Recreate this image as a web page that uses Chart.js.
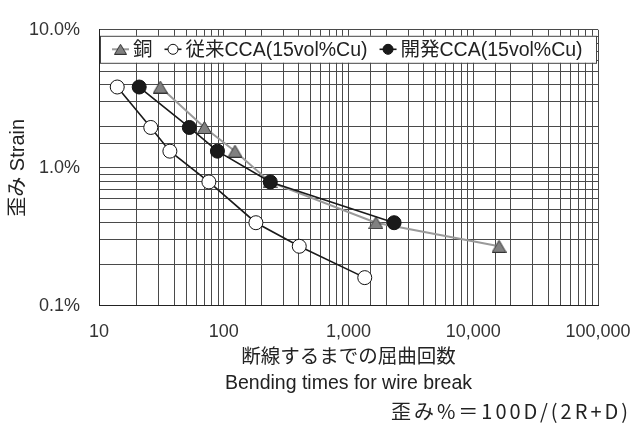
<!DOCTYPE html>
<html>
<head>
<meta charset="utf-8">
<script src="https://cdn.jsdelivr.net/npm/chart.js"></script>
<style>
html, body { margin: 0; padding: 0; background: #fff; }
#wrap { width: 632px; height: 426px; }
</style>
</head>
<body>
<div id="wrap"><canvas id="chart"></canvas></div>
<script>
const seriesNames = ['銅', '従来CCA(15vol%Cu)', '開発CCA(15vol%Cu)'];
const copperTimes = [31, 70, 123, 235, 1660, 16100];
const copperStrain = [3.85, 1.96, 1.32, 0.79, 0.40, 0.27];
const oldCcaTimes = [14, 26, 37, 76, 181, 403, 1350];
const oldCcaStrain = [3.85, 1.96, 1.32, 0.79, 0.40, 0.27, 0.16];
const newCcaTimes = [21, 53, 89, 236, 2320];
const newCcaStrain = [3.85, 1.96, 1.32, 0.79, 0.40];

const xTitle = ['断線するまでの屈曲回数', 'Bending times for wire break'];
const yTitle = '歪み Strain';
const formula = '歪み%＝100D/(2R+D)';

const FONT = "'Liberation Sans', 'Noto Sans CJK JP', sans-serif";

function toPoints(xs, ys) {
    return xs.map((x, i) => ({x: x, y: ys[i]}));
}

function isDecade(v) {
    const l = Math.log10(v);
    return Math.abs(l - Math.round(l)) < 1e-9;
}

// excel style triangle, centred on its bounding box
function triangleImg(w, h) {
    const c = document.createElement('canvas');
    c.width = w;
    c.height = h;
    const g = c.getContext('2d');
    g.beginPath();
    g.moveTo(w / 2, 0.5);
    g.lineTo(w - 0.5, h - 0.5);
    g.lineTo(0.5, h - 0.5);
    g.closePath();
    g.fillStyle = '#808080';
    g.fill();
    g.strokeStyle = '#333';
    g.lineWidth = 1;
    g.stroke();
    return c;
}

const tri = triangleImg(15, 13);
const triSmall = triangleImg(13, 11);

const legendBox = {
    id: 'legendBox',
    afterDraw(chart) {
        const ctx = chart.ctx;
        const area = chart.chartArea;
        const left = area.left + 1, right = area.right - 2;
        const top = area.top + 6, h = 27;
        const cy = top + h / 2;
        ctx.save();
        ctx.fillStyle = '#fff';
        ctx.fillRect(left, top, right - left, h);
        ctx.strokeStyle = '#444';
        ctx.lineWidth = 1;
        ctx.strokeRect(left + 0.5, top + 0.5, right - left, h);

        ctx.font = '19.5px ' + FONT;
        ctx.textBaseline = 'middle';
        let x = left + 12;
        seriesNames.forEach((name, i) => {
            const ds = chart.data.datasets.find(d => d.label === name);
            ctx.strokeStyle = ds.borderColor;
            ctx.lineWidth = ds.borderWidth;
            ctx.beginPath();
            ctx.moveTo(x, cy);
            ctx.lineTo(x + 17, cy);
            ctx.stroke();
            if (i === 0) {
                ctx.drawImage(triSmall, x + 8.5 - triSmall.width / 2, cy - triSmall.height / 2);
            } else {
                ctx.beginPath();
                ctx.arc(x + 8.5, cy, 5, 0, Math.PI * 2);
                ctx.fillStyle = ds.pointBackgroundColor;
                ctx.fill();
                ctx.strokeStyle = '#111';
                ctx.lineWidth = 1;
                ctx.stroke();
            }
            ctx.fillStyle = '#222';
            ctx.fillText(name, x + 21, cy + 1);
            x += 21 + ctx.measureText(name).width + 12;
        });
        ctx.restore();
    }
};

// the formula line in the original is set with wide spacing
const spacedFormula = {
    id: 'spacedFormula',
    afterLayout(chart) {
        chart.boxes.forEach(b => {
            if (b.options && b.options.text === formula && !b._spaced) {
                const draw = b.draw.bind(b);
                b.draw = function(area) {
                    const c = this.ctx;
                    c.save();
                    c.letterSpacing = '3px';
                    draw(area);
                    c.restore();
                };
                b._spaced = true;
            }
        });
    }
};

new Chart(document.getElementById('chart'), {
    type: 'scatter',
    data: {
        datasets: [{
            label: seriesNames[0],
            data: toPoints(copperTimes, copperStrain),
            showLine: true,
            borderColor: '#9a9a9a',
            borderWidth: 2,
            pointStyle: tri,
            pointBackgroundColor: '#808080',
            order: 2
        }, {
            label: seriesNames[1],
            data: toPoints(oldCcaTimes, oldCcaStrain),
            showLine: true,
            borderColor: '#1a1a1a',
            borderWidth: 1.6,
            pointRadius: 7,
            pointBorderWidth: 1,
            pointBorderColor: '#111',
            pointBackgroundColor: '#fff',
            order: 1
        }, {
            label: seriesNames[2],
            data: toPoints(newCcaTimes, newCcaStrain),
            showLine: true,
            borderColor: '#1a1a1a',
            borderWidth: 1.6,
            pointRadius: 7,
            pointBorderWidth: 1,
            pointBorderColor: '#111',
            pointBackgroundColor: '#1a1a1a',
            order: 0
        }]
    },
    options: {
        responsive: true,
        maintainAspectRatio: false,
        animation: false,
        events: [],
        layout: {
            padding: {top: 22, right: 1, bottom: 0, left: 0}
        },
        scales: {
            x: {
                type: 'logarithmic',
                min: 10,
                max: 100000,
                afterFit: s => { s.height = 92.2; s.paddingRight = 34; },
                grid: {color: '#4a4a4a', drawTicks: false},
                border: {color: '#222'},
                ticks: {
                    autoSkip: false,
                    maxRotation: 0,
                    padding: 15,
                    color: '#333',
                    font: {family: FONT, size: 18},
                    callback: v => isDecade(v) ? v.toLocaleString('en-US') : ''
                },
                title: {
                    display: true,
                    text: xTitle,
                    color: '#222',
                    font: {family: FONT, size: 19.5, lineHeight: '26px'},
                    padding: {top: 0, bottom: 1}
                }
            },
            y: {
                type: 'logarithmic',
                min: 0.1,
                max: 10,
                afterFit: s => { s.width = 99; },
                grid: {color: '#4a4a4a', drawTicks: false},
                border: {color: '#222'},
                ticks: {
                    autoSkip: false,
                    padding: 19,
                    color: '#333',
                    font: {family: FONT, size: 18},
                    callback: v => isDecade(v) ? v.toFixed(1) + '%' : ''
                },
                title: {
                    display: true,
                    text: yTitle,
                    color: '#222',
                    font: {family: FONT, size: 20},
                    padding: {top: 6, bottom: 0}
                }
            }
        },
        plugins: {
            legend: {display: false},
            tooltip: {enabled: false},
            subtitle: {
                display: true,
                text: formula,
                position: 'bottom',
                align: 'end',
                color: '#222',
                font: {family: "'Noto Sans CJK JP', sans-serif", size: 20, weight: 'normal'},
                padding: {top: 1, bottom: 3}
            }
        }
    },
    plugins: [legendBox, spacedFormula]
});
</script>
</body>
</html>
